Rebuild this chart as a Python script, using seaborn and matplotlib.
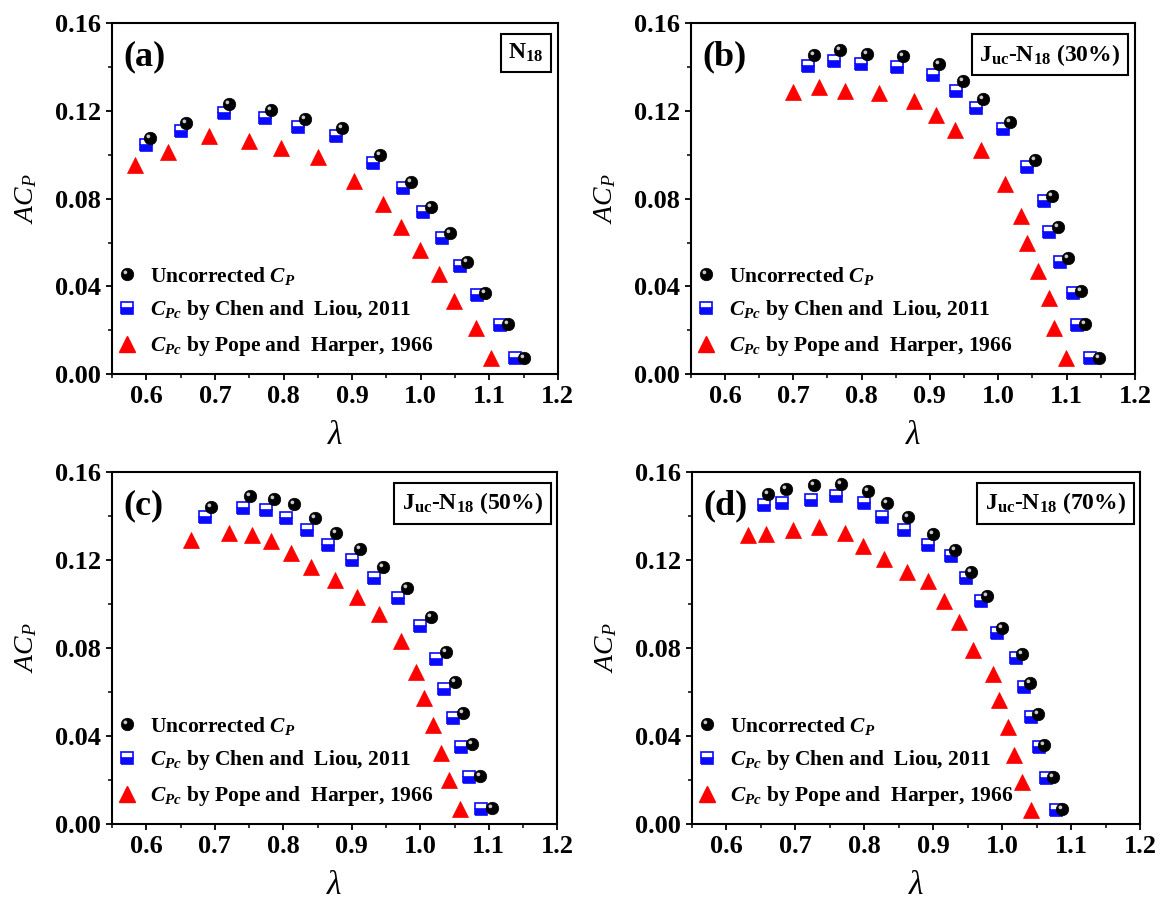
import numpy as np
import pandas as pd
import seaborn as sns
import matplotlib
matplotlib.use("Agg")
import matplotlib.pyplot as plt
from matplotlib.lines import Line2D
from matplotlib.path import Path
from matplotlib.legend_handler import HandlerTuple
from matplotlib.ticker import MultipleLocator, FormatStrFormatter

# ---------------- data: tip speed ratio (lambda) vs. power coefficient ----------------
# (a) N18
lam_a_unc = [0.606, 0.658, 0.721, 0.782, 0.831, 0.886, 0.941, 0.986, 1.015, 1.043, 1.068, 1.094, 1.128, 1.150]
acp_a_unc = [0.1075, 0.1147, 0.1232, 0.1205, 0.1165, 0.1121, 0.0999, 0.0875, 0.0764, 0.0642, 0.0510, 0.0371, 0.0227, 0.0075]
lam_a_chen = [0.600, 0.651, 0.713, 0.773, 0.821, 0.876, 0.931, 0.974, 1.004, 1.031, 1.057, 1.082, 1.116, 1.137]
acp_a_chen = [0.1045, 0.1109, 0.1189, 0.1167, 0.1129, 0.1086, 0.0964, 0.0847, 0.0738, 0.0619, 0.0493, 0.0360, 0.0224, 0.0071]
lam_a_pope = [0.583, 0.632, 0.691, 0.750, 0.796, 0.850, 0.903, 0.945, 0.972, 0.999, 1.026, 1.049, 1.081, 1.102]
acp_a_pope = [0.0954, 0.1014, 0.1087, 0.1065, 0.1030, 0.0992, 0.0882, 0.0774, 0.0672, 0.0566, 0.0456, 0.0333, 0.0208, 0.0071]

# (b) Juc-N18 (30%)
lam_b_unc = [0.730, 0.769, 0.808, 0.861, 0.914, 0.949, 0.977, 1.017, 1.054, 1.079, 1.087, 1.102, 1.121, 1.127, 1.148]
acp_b_unc = [0.1456, 0.1478, 0.1460, 0.1451, 0.1413, 0.1337, 0.1255, 0.1151, 0.0976, 0.0814, 0.0669, 0.0528, 0.0380, 0.0228, 0.0075]
lam_b_chen = [0.721, 0.760, 0.799, 0.852, 0.904, 0.938, 0.968, 1.007, 1.042, 1.067, 1.075, 1.091, 1.109, 1.115, 1.135]
acp_b_chen = [0.1405, 0.1430, 0.1413, 0.1402, 0.1364, 0.1293, 0.1215, 0.1116, 0.0946, 0.0791, 0.0646, 0.0510, 0.0368, 0.0224, 0.0071]
lam_b_pope = [0.699, 0.737, 0.775, 0.826, 0.876, 0.909, 0.937, 0.975, 1.010, 1.034, 1.042, 1.058, 1.074, 1.081, 1.099]
acp_b_pope = [0.1288, 0.1308, 0.1291, 0.1284, 0.1247, 0.1182, 0.1113, 0.1022, 0.0865, 0.0722, 0.0596, 0.0471, 0.0345, 0.0208, 0.0071]

# (c) Juc-N18 (50%)
lam_c_unc = [0.695, 0.752, 0.786, 0.815, 0.847, 0.877, 0.912, 0.946, 0.981, 1.015, 1.037, 1.050, 1.063, 1.075, 1.087, 1.105]
acp_c_unc = [0.1441, 0.1490, 0.1476, 0.1453, 0.1393, 0.1323, 0.1252, 0.1169, 0.1075, 0.0939, 0.0780, 0.0646, 0.0506, 0.0363, 0.0218, 0.0071]
lam_c_chen = [0.685, 0.741, 0.775, 0.804, 0.835, 0.865, 0.900, 0.933, 0.967, 1.000, 1.023, 1.035, 1.048, 1.060, 1.071, 1.089]
acp_c_chen = [0.1396, 0.1438, 0.1426, 0.1393, 0.1335, 0.1267, 0.1202, 0.1120, 0.1029, 0.0899, 0.0748, 0.0616, 0.0483, 0.0351, 0.0212, 0.0067]
lam_c_pope = [0.666, 0.721, 0.754, 0.782, 0.811, 0.841, 0.875, 0.908, 0.940, 0.972, 0.994, 1.006, 1.018, 1.030, 1.042, 1.058]
acp_c_pope = [0.1290, 0.1325, 0.1315, 0.1285, 0.1234, 0.1169, 0.1108, 0.1032, 0.0954, 0.0831, 0.0692, 0.0571, 0.0450, 0.0324, 0.0200, 0.0067]

# (d) Juc-N18 (70%)
lam_d_unc = [0.660, 0.686, 0.727, 0.766, 0.805, 0.833, 0.864, 0.899, 0.932, 0.955, 0.978, 1.000, 1.029, 1.040, 1.052, 1.061, 1.073, 1.087]
acp_d_unc = [0.1502, 0.1521, 0.1543, 0.1547, 0.1512, 0.1461, 0.1396, 0.1320, 0.1247, 0.1146, 0.1037, 0.0889, 0.0772, 0.0639, 0.0500, 0.0357, 0.0212, 0.0067]
lam_d_chen = [0.654, 0.681, 0.722, 0.759, 0.799, 0.826, 0.858, 0.892, 0.925, 0.947, 0.969, 0.992, 1.020, 1.031, 1.042, 1.053, 1.063, 1.078]
acp_d_chen = [0.1449, 0.1459, 0.1474, 0.1490, 0.1461, 0.1396, 0.1335, 0.1267, 0.1217, 0.1120, 0.1013, 0.0870, 0.0755, 0.0624, 0.0487, 0.0351, 0.0207, 0.0064]
lam_d_pope = [0.632, 0.658, 0.697, 0.734, 0.772, 0.798, 0.829, 0.862, 0.893, 0.916, 0.937, 0.958, 0.986, 0.996, 1.008, 1.017, 1.028, 1.042]
acp_d_pope = [0.1312, 0.1320, 0.1335, 0.1350, 0.1323, 0.1264, 0.1206, 0.1146, 0.1104, 0.1013, 0.0919, 0.0790, 0.0684, 0.0563, 0.0442, 0.0316, 0.0189, 0.0064]

panel_letters = ["(a)", "(b)", "(c)", "(d)"]
panel_tags = [r"N$_{18}$", r"J$_{\mathrm{uc}}$-N$_{18}$ (30%)",
              r"J$_{\mathrm{uc}}$-N$_{18}$ (50%)", r"J$_{\mathrm{uc}}$-N$_{18}$ (70%)"]
legend_labels = [r"Uncorrected $C_P$",
                 r"$C_{Pc}$ by Chen and  Liou, 2011",
                 r"$C_{Pc}$ by Pope and  Harper, 1966"]
x_ticks = [0.6, 0.7, 0.8, 0.9, 1.0, 1.1, 1.2]
y_ticks = [0.00, 0.04, 0.08, 0.12, 0.16]

panels = [
    (lam_a_unc, acp_a_unc, lam_a_chen, acp_a_chen, lam_a_pope, acp_a_pope),
    (lam_b_unc, acp_b_unc, lam_b_chen, acp_b_chen, lam_b_pope, acp_b_pope),
    (lam_c_unc, acp_c_unc, lam_c_chen, acp_c_chen, lam_c_pope, acp_c_pope),
    (lam_d_unc, acp_d_unc, lam_d_chen, acp_d_chen, lam_d_pope, acp_d_pope),
]

# ---------------- style ----------------
sns.set_theme(style="ticks")
plt.rcParams.update({
    "font.family": ["Liberation Serif", "DejaVu Serif"],
    "font.weight": "bold",
    "axes.labelweight": "normal",
    "text.color": "black",
    "axes.labelcolor": "black",
    "mathtext.fontset": "custom",
    "mathtext.rm": "Liberation Serif:bold",
    "mathtext.it": "Liberation Serif:italic:bold",
    "mathtext.bf": "Liberation Serif:bold",
    "mathtext.sf": "Liberation Serif:style=italic:weight=normal",
    "axes.linewidth": 1.5,
    "axes.edgecolor": "black",
    "xtick.color": "black",
    "ytick.color": "black",
    "xtick.labelcolor": "black",
    "ytick.labelcolor": "black",
})

BLUE = "#0a0aff"
RED = "#ff0000"

# glossy highlight drawn on top of the black balls (upper-left spot)
_spot = Path.circle(center=(-0.34, 0.34), radius=0.30)
_frame = Path([(-1.0, -1.0), (1.0, 1.0)], [Path.MOVETO, Path.MOVETO])
SPOT = Path.make_compound_path(_frame, _spot)

BALL_MS = 9
SQ_MS = 8
TRI_MS = 11

fig = plt.figure(figsize=(11.61, 8.99), dpi=100)
positions = [
    [0.0965, 0.584, 0.384, 0.390],
    [0.595, 0.584, 0.3825, 0.390],
    [0.0965, 0.0834, 0.3835, 0.3915],
    [0.596, 0.0834, 0.386, 0.3915],
]

for i, (pos, data) in enumerate(zip(positions, panels)):
    ax = fig.add_axes(pos)
    lu, au, lc, ac, lp, ap = data

    sns.lineplot(x=lp, y=ap, ax=ax, estimator=None, sort=False, linestyle="",
                 marker="^", markersize=TRI_MS, color=RED,
                 markeredgecolor=RED, markeredgewidth=0.5, legend=False)
    sns.lineplot(x=lc, y=ac, ax=ax, estimator=None, sort=False, linestyle="",
                 marker="s", markersize=SQ_MS, color=BLUE, fillstyle="bottom",
                 markerfacecoloralt="white", markeredgecolor=BLUE,
                 markeredgewidth=1.2, legend=False)
    sns.lineplot(x=lu, y=au, ax=ax, estimator=None, sort=False, linestyle="",
                 marker="o", markersize=BALL_MS, color="black",
                 markeredgecolor="black", markeredgewidth=0.5, legend=False)
    sns.lineplot(x=lu, y=au, ax=ax, estimator=None, sort=False, linestyle="",
                 marker=SPOT, markersize=BALL_MS, color="#c8c8c8",
                 markeredgecolor="none", markeredgewidth=0, legend=False)

    ax.set_xlim(0.55, 1.2)
    ax.set_ylim(0.0, 0.16)
    ax.set_xticks(x_ticks)
    ax.set_yticks(y_ticks)
    ax.xaxis.set_minor_locator(MultipleLocator(0.05))
    ax.yaxis.set_minor_locator(MultipleLocator(0.02))
    ax.xaxis.set_major_formatter(FormatStrFormatter("%.1f"))
    ax.yaxis.set_major_formatter(FormatStrFormatter("%.2f"))
    ax.tick_params(axis="both", which="major", direction="out", length=4,
                   width=1.3, labelsize=19, pad=4)
    ax.tick_params(axis="both", which="minor", direction="out", length=3,
                   width=1.1)
    ax.tick_params(top=False, right=False, which="both")
    for lab in ax.get_xticklabels() + ax.get_yticklabels():
        lab.set_fontweight("bold")
    for sp in ax.spines.values():
        sp.set_visible(True)
        sp.set_linewidth(1.5)

    ax.set_xlabel(r"$\mathsf{\lambda}$", fontsize=24, labelpad=9)
    ax.set_ylabel(r"$\mathsf{AC_P}$", fontsize=20, labelpad=11)

    ax.text(0.025, 0.905, panel_letters[i], transform=ax.transAxes,
            fontsize=26, fontweight="bold", ha="left", va="center")
    ax.text(0.968, 0.948, panel_tags[i], transform=ax.transAxes,
            fontsize=17, fontweight="bold", ha="right", va="top",
            bbox=dict(boxstyle="square,pad=0.33", facecolor="white",
                      edgecolor="black", linewidth=1.5))

    h_ball = Line2D([], [], linestyle="", marker="o", markersize=BALL_MS,
                    color="black", markeredgecolor="black", markeredgewidth=0.5)
    h_spot = Line2D([], [], linestyle="", marker=SPOT, markersize=BALL_MS,
                    color="#c8c8c8", markeredgecolor="none")
    h_sq = Line2D([], [], linestyle="", marker="s", markersize=SQ_MS,
                  color=BLUE, fillstyle="bottom", markerfacecoloralt="white",
                  markeredgecolor=BLUE, markeredgewidth=1.2)
    h_tri = Line2D([], [], linestyle="", marker="^", markersize=TRI_MS,
                   color=RED, markeredgecolor=RED)
    ax.legend([(h_ball, h_spot), h_sq, h_tri], legend_labels,
              handler_map={tuple: HandlerTuple(ndivide=1, pad=0)},
              loc="lower left", bbox_to_anchor=(0.005, 0.045),
              frameon=False, fontsize=15.5, handlelength=1.2,
              handletextpad=0.45, labelspacing=0.55, borderaxespad=0,
              borderpad=0)

fig.savefig("out.png", dpi=100, facecolor="white")
